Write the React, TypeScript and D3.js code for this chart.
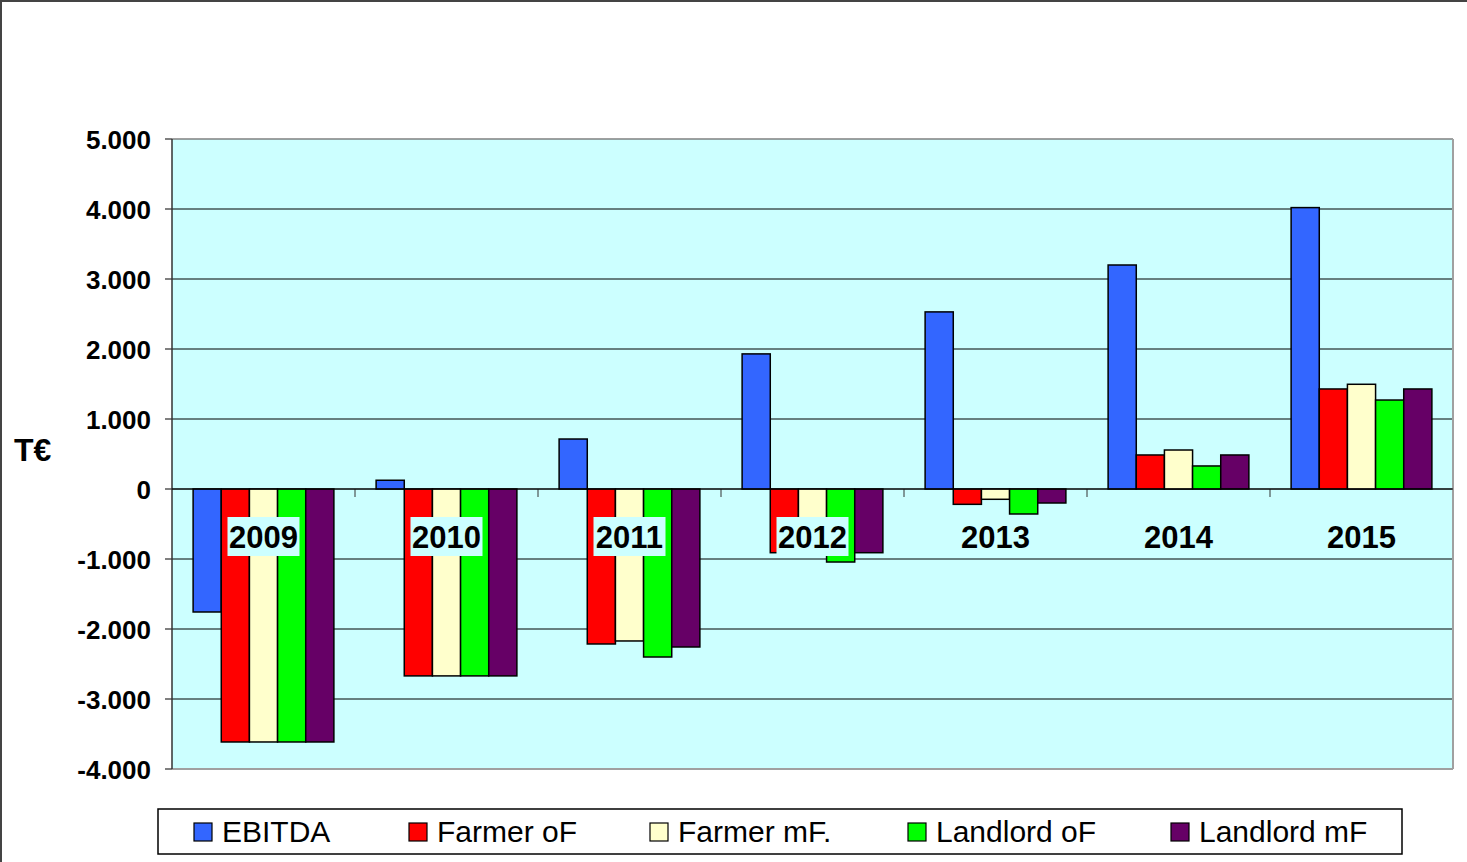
import React from "react";
import * as d3 from "d3";

const categories = ["2009", "2010", "2011", "2012", "2013", "2014", "2015"];
const seriesNames = ["EBITDA", "Farmer oF", "Farmer mF.", "Landlord oF", "Landlord mF"];
const seriesColors = ["#3366FF", "#FF0000", "#FFFFCC", "#00FF00", "#660066"];
const ebitda = [-1757, 125, 714, 1930, 2530, 3200, 4020];
const farmerOF = [-3614, -2670, -2214, -910, -219, 486, 1429];
const farmerMF = [-3614, -2670, -2171, -900, -147, 557, 1496];
const landlordOF = [-3614, -2670, -2400, -1043, -357, 329, 1271];
const landlordMF = [-3614, -2670, -2257, -910, -200, 486, 1429];
const yTicks = [5000, 4000, 3000, 2000, 1000, 0, -1000, -2000, -3000, -4000];
const legendX = [194, 409, 650, 908, 1171];

const W = 1467;
const H = 862;
const plot = { left: 172, right: 1453, top: 139, bottom: 769 };
const FONT = "'Liberation Sans', Arial, sans-serif";

export default function App() {
  const series = [ebitda, farmerOF, farmerMF, landlordOF, landlordMF];
  const x = d3.scaleBand<string>().domain(categories).range([plot.left, plot.right]).paddingInner(0).paddingOuter(0);
  const y = d3.scaleLinear().domain([-4000, 5000]).range([plot.bottom, plot.top]);
  const bw = x.bandwidth();
  const barW = bw / (5 + 1.5);
  const inner = d3.scaleBand<number>().domain(d3.range(5)).range([barW * 0.75, bw - barW * 0.75]);
  const fmt = (v: number) => {
    const s = d3.format(",")(v).replace(/,/g, ".");
    return s.replace("−", "-");
  };
  const y0 = y(0);

  return (
    <svg width={W} height={H} style={{ position: "absolute", left: 0, top: 0, background: "#fff" }}>
      <line x1={1} y1={0} x2={1} y2={H} stroke="#444" strokeWidth={2} />
      <line x1={0} y1={1} x2={W} y2={1} stroke="#444" strokeWidth={2} />
      <rect x={plot.left} y={plot.top} width={plot.right - plot.left} height={plot.bottom - plot.top} fill="#CCFFFF" />
      {yTicks.map((t) => (
        <g key={t}>
          {t !== 5000 && t !== -4000 && (
            <line x1={plot.left} x2={plot.right} y1={y(t)} y2={y(t)} stroke="#000" strokeWidth={1} />
          )}
          <line x1={plot.left - 7} x2={plot.left} y1={y(t)} y2={y(t)} stroke="#000" strokeWidth={1} />
          <text x={151} y={y(t) + 9.5} textAnchor="end" fontFamily={FONT} fontWeight="bold" fontSize={26} fill="#000">
            {fmt(t)}
          </text>
        </g>
      ))}
      <line x1={plot.left} x2={plot.right} y1={plot.top} y2={plot.top} stroke="#808080" strokeWidth={1.5} />
      <line x1={plot.right} x2={plot.right} y1={plot.top} y2={plot.bottom} stroke="#A0A0A0" strokeWidth={2} />
      <line x1={plot.left} x2={plot.right} y1={plot.bottom} y2={plot.bottom} stroke="#A0A0A0" strokeWidth={2} />
      {categories.slice(1).map((c) => (
        <line key={c} x1={x(c)!} x2={x(c)!} y1={y0} y2={y0 + 8} stroke="#333" strokeWidth={1} />
      ))}
      {categories.map((c, i) => (
        <g key={c}>
          {series.map((s, k) => {
            const v = s[i];
            const top = Math.min(y(v), y0);
            const h = Math.abs(y(v) - y0);
            return (
              <rect
                key={k}
                x={x(c)! + inner(k)!}
                y={top}
                width={inner.bandwidth()}
                height={h}
                fill={seriesColors[k]}
                stroke="#000"
                strokeWidth={1.5}
              />
            );
          })}
        </g>
      ))}
      <line x1={plot.left} x2={plot.left} y1={plot.top} y2={plot.bottom} stroke="#333" strokeWidth={1.5} />
      <line x1={plot.left} x2={plot.right} y1={y0} y2={y0} stroke="#000" strokeWidth={1} />
      {categories.map((c) => {
        const cx = x(c)! + bw / 2;
        return (
          <g key={c}>
            <rect x={cx - 36} y={517} width={72} height={39} fill="#CCFFFF" />
            <text x={cx} y={548} textAnchor="middle" fontFamily={FONT} fontWeight="bold" fontSize={31} fill="#000">
              {c}
            </text>
          </g>
        );
      })}
      <text x={14} y={461} fontFamily={FONT} fontWeight="bold" fontSize={32} fill="#000">
        T€
      </text>
      <rect x={158} y={809} width={1244} height={45} fill="#fff" stroke="#000" strokeWidth={1.5} />
      {seriesNames.map((n, k) => (
        <g key={n}>
          <rect x={legendX[k]} y={823} width={18} height={18} fill={seriesColors[k]} stroke="#000" strokeWidth={1.2} />
          <text x={legendX[k] + 28} y={842} fontFamily={FONT} fontSize={30} fill="#000">
            {n}
          </text>
        </g>
      ))}
    </svg>
  );
}
